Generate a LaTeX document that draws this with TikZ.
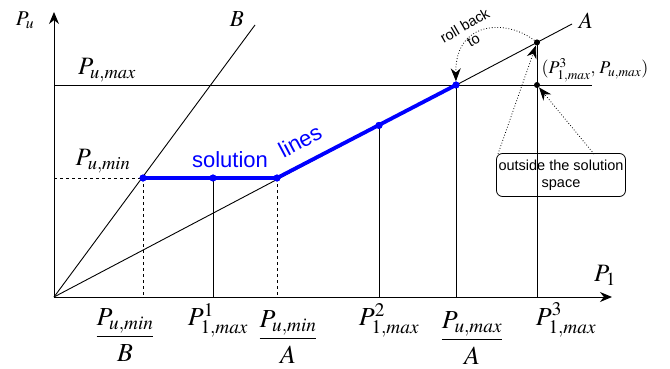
\documentclass[tikz,border=0pt]{standalone}
\usepackage{mathptmx}
\usepackage{fontspec}
\setsansfont{Liberation Sans}
\usetikzlibrary{arrows.meta}
\begin{document}
\begin{tikzpicture}[x=1pt,y=-1pt,
  ax/.style={line width=1pt},
  ln/.style={line width=0.9pt},
  dsh/.style={line width=0.9pt, dash pattern=on 3pt off 3pt},
  sol/.style={blue, line width=3.8pt, line join=round},
  dotb/.style={circle, fill=blue, inner sep=0pt, minimum size=7pt},
  dotk/.style={circle, fill=black, inner sep=0pt, minimum size=6pt},
  lab/.style={font=\fontsize{25}{29}\selectfont, inner sep=0pt},
  blab/.style={font=\fontsize{26}{30}\selectfont, inner sep=0pt},
  small/.style={font=\fontsize{18}{21}\selectfont, inner sep=0pt},
  note/.style={font=\sffamily\fontsize{14.5}{17}\selectfont, align=center},
  bluetxt/.style={text=blue, font=\sffamily\fontsize{22}{25}\selectfont, inner sep=0pt},
  dotarrow/.style={line width=0.8pt, dotted, -{Stealth[length=13pt,width=10pt]}},
  axarrow/.style={ax, -{Stealth[length=12pt,width=10pt]}}]
\useasboundingbox (0,0) rectangle (670,369);
% coordinates
\coordinate (O) at (54,297);
\coordinate (ytop) at (54,12);
\coordinate (xend) at (612,297);
\coordinate (Btop) at (255,25);
\coordinate (Atop) at (572,24);
\coordinate (maxL) at (54,85);
\coordinate (maxR) at (592,85);
\coordinate (minL) at (54,178);
\coordinate (f1) at (143,297);
\coordinate (f2) at (213,297);
\coordinate (f3) at (277,297);
\coordinate (f4) at (379,297);
\coordinate (f5) at (456,297);
\coordinate (f6) at (537,297);
% axes
\draw[axarrow] (O) -- (ytop);
\draw[axarrow] (O) -- (xend);
% lines
\draw[ln] (O) -- (Btop);
\draw[ln] (O) -- (Atop);
\draw[ln] (maxL) -- (maxR);
% dots
\node[dotb] (d1) at (143,178) {};
\node[dotb] (d2) at (213,178) {};
\node[dotb] (d3) at (277,178) {};
\node[dotb] (d4) at (379,125.4) {};
\node[dotb] (d5) at (456,85) {};
\node[dotk] (k1) at (537,42.4) {};
\node[dotk] (k2) at (537,85) {};
% verticals
\draw[dsh] (minL) -- (d1.center);
\draw[dsh] (d1.center) -- (f1);
\draw[ln] (d2.center) -- (f2);
\draw[dsh] (d3.center) -- (f3);
\draw[ln] (d4.center) -- (f4);
\draw[ln] (d5.center) -- (f5);
\draw[ln] (k1.center) -- (f6);
% solution line
\draw[sol] (d1.center) -- (d3.center) -- (d5.center);
\node[dotb] at (d1) {};
\node[dotb] at (d2) {};
\node[dotb] at (d3) {};
\node[dotb] at (d4) {};
\node[dotb] at (d5) {};
\node[bluetxt] (solt) at (230,160) {solution};
\node[bluetxt, rotate=28] (lint) at (300,141) {lines};
% labels
\node[lab, font=\fontsize{21}{25}\selectfont] (Pu) at (25,20) {$P_u$};
\node[lab, font=\fontsize{23}{27}\selectfont] (Bl) at (237,19) {$B$};
\node[lab, font=\fontsize{23}{27}\selectfont] (Al) at (586,21) {$A$};
\node[lab] (Pmax) at (107,70) {$P_{u,max}$};
\node[lab] (Pmin) at (103,161) {$P_{u,min}$};
\node[lab] (P1) at (605,275) {$P_1$};
\node[small] (pt) at (595,70) {$(P^3_{1,max},\,P_{u,max})$};
% bottom labels
\node[blab] (b1) at (125,335) {$\displaystyle\frac{P_{u,min}}{B}$};
\node[blab] (b2) at (218,320) {$P^1_{1,max}$};
\node[blab] (b3) at (288,337) {$\displaystyle\frac{P_{u,min}}{A}$};
\node[blab] (b4) at (389,320) {$P^2_{1,max}$};
\node[blab] (b5) at (472,338) {$\displaystyle\frac{P_{u,max}}{A}$};
\node[blab] (b6) at (566,320) {$P^3_{1,max}$};
% roll back
\node[note, rotate=30, inner sep=0pt] (rb) at (469,33) {roll back\\to};
\draw[dotarrow] (k1) .. controls (505,18) and (455,22) .. (d5);
% box
\node[note, draw, rounded corners=6pt, line width=0.8pt, minimum width=129pt, minimum height=43pt, inner sep=1pt] (box) at (561,175) {outside the solution\\space};
\coordinate (bs1) at (498,154);
\coordinate (bs2) at (594,154);
\draw[dotarrow] (bs1) -- (k1);
\draw[dotarrow] (bs2) -- (k2);
\end{tikzpicture}
\end{document}
